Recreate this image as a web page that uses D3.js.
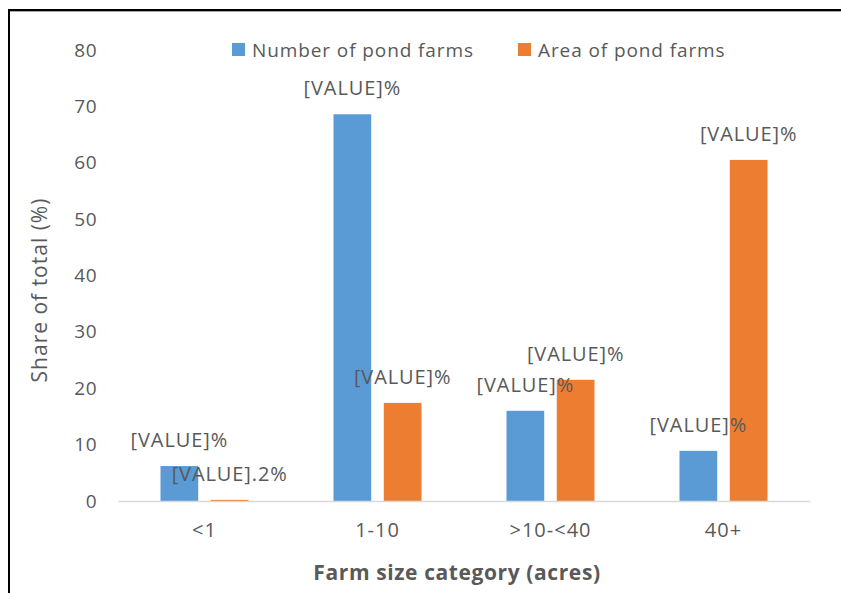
<!DOCTYPE html>
<html lang="en">
<head>
    <meta charset="UTF-8">
    <title>Farm size category chart</title>
    <script src="https://d3js.org/d3.v7.min.js"></script>
    <style>
        * { margin: 0; padding: 0; box-sizing: border-box; }
        html, body { overflow: hidden; }
        body { background: #fff; font-family: "Open Sans", Arial, sans-serif; }
        svg { display: block; }
    </style>
</head>
<body>
    <svg width="841" height="593"></svg>

    <script>
        // chart data
        const categories = ["<1", "1-10", ">10-<40", "40+"];
        const seriesNames = ["Number of pond farms", "Area of pond farms"];
        const numberShare = [6.2, 68.6, 16.0, 8.9];
        const areaShare = [0.2, 17.4, 21.5, 60.5];
        const numberLabels = ["[VALUE]%", "[VALUE]%", "[VALUE]%", "[VALUE]%"];
        const areaLabels = ["[VALUE].2%", "[VALUE]%", "[VALUE]%", "[VALUE]%"];
        const yTicks = [0, 10, 20, 30, 40, 50, 60, 70, 80];
        const colors = ["#5b9bd5", "#ed7d31"];

        const svg = d3.select("svg");
        const textColor = "#595959";

        // frame of the pasted figure (top and left edges only show)
        svg.append("line")
            .attr("x1", 8).attr("x2", 841)
            .attr("y1", 10).attr("y2", 10)
            .attr("stroke", "#000").attr("stroke-width", 2);
        svg.append("line")
            .attr("x1", 10).attr("x2", 841)
            .attr("y1", 11.5).attr("y2", 11.5)
            .attr("stroke", "#aaa").attr("stroke-width", 1);
        svg.append("line")
            .attr("x1", 9).attr("x2", 9)
            .attr("y1", 9).attr("y2", 593)
            .attr("stroke", "#000").attr("stroke-width", 2);

        const margin = { left: 118, right: 31, top: 50, bottom: 92 };
        const plotW = 841 - margin.left - margin.right;
        const baseY = 501;

        const x = d3.scaleBand().domain(categories).range([margin.left, margin.left + plotW]);
        const y = d3.scaleLinear().domain([0, 80]).range([baseY, margin.top]);
        const inner = d3.scaleBand().domain([0, 1]).range([-44, 44]).paddingInner(0.25);

        const rows = categories.map((c, i) => ({
            cat: c,
            vals: [numberShare[i], areaShare[i]],
            labels: [numberLabels[i], areaLabels[i]]
        }));

        // y axis
        const yAxis = svg.append("g")
            .attr("transform", `translate(${margin.left},0)`)
            .call(d3.axisLeft(y).tickValues(yTicks).tickSize(0).tickPadding(21));
        yAxis.select(".domain").remove();
        yAxis.selectAll("text")
            .attr("fill", textColor)
            .style("font-size", "19px")
            .style("letter-spacing", "0.5px")
            .style("font-family", "'Open Sans', sans-serif");

        // bars
        const groups = svg.append("g").selectAll("g")
            .data(rows)
            .join("g")
            .attr("transform", d => `translate(${x(d.cat) + x.bandwidth() / 2},0)`);

        groups.selectAll("rect")
            .data(d => d.vals.map((v, k) => ({ v, k })))
            .join("rect")
            .attr("x", d => inner(d.k))
            .attr("width", inner.bandwidth())
            .attr("y", d => y(d.v))
            .attr("height", d => baseY - y(d.v))
            .attr("fill", d => colors[d.k]);

        // x axis
        const xAxis = svg.append("g")
            .attr("transform", `translate(0,${baseY})`)
            .call(d3.axisBottom(x).tickSize(0).tickPadding(22));
        xAxis.select(".domain").attr("stroke", "#d9d9d9").attr("stroke-width", 1.5);
        xAxis.selectAll("text")
            .attr("fill", textColor)
            .style("font-size", "20px")
            .style("letter-spacing", "1px")
            .style("font-family", "'Open Sans', sans-serif");

        // data labels
        groups.selectAll("text.lbl")
            .data(d => d.vals.map((v, k) => ({ v, k, t: d.labels[k] })))
            .join("text")
            .attr("class", "lbl")
            .attr("x", d => inner(d.k) + inner.bandwidth() / 2)
            .attr("y", d => y(d.v) - 26)
            .attr("dy", "0.35em")
            .attr("text-anchor", "middle")
            .attr("fill", textColor)
            .style("font-size", "20px")
            .style("letter-spacing", "0.9px")
            .text(d => d.t);

        // legend
        const legendX = [232, 518];
        const legend = svg.append("g").selectAll("g")
            .data(seriesNames)
            .join("g")
            .attr("transform", (d, i) => `translate(${legendX[i]},50)`);
        legend.append("rect")
            .attr("x", 0).attr("y", -7)
            .attr("width", 13).attr("height", 13)
            .attr("fill", (d, i) => colors[i]);
        legend.append("text")
            .attr("x", 20)
            .attr("dy", "0.35em")
            .attr("fill", textColor)
            .style("font-size", "19px")
            .style("letter-spacing", "0.9px")
            .text(d => d);

        // axis titles
        svg.append("text")
            .attr("transform", "translate(40,290) rotate(-90)")
            .attr("text-anchor", "middle")
            .attr("dy", "0.35em")
            .attr("fill", textColor)
            .style("font-size", "21px")
            .style("letter-spacing", "1px")
            .text("Share of total (%)");

        svg.append("text")
            .attr("x", 457).attr("y", 573)
            .attr("text-anchor", "middle")
            .attr("dy", "0.35em")
            .attr("fill", textColor)
            .style("font-size", "21px")
            .style("letter-spacing", "0.6px")
            .style("font-weight", "bold")
            .text("Farm size category (acres)");
    </script>
</body>
</html>
